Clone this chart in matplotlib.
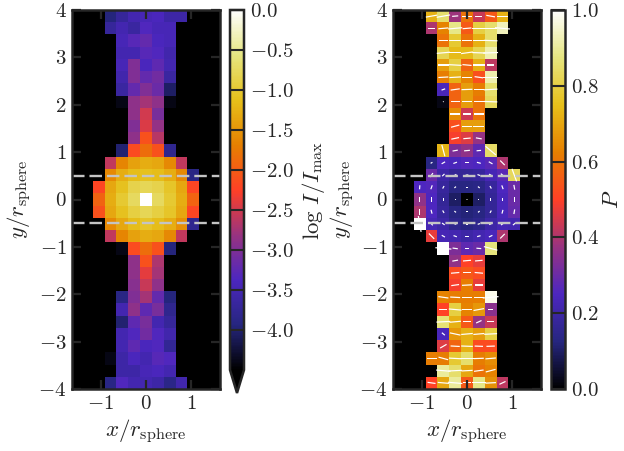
import numpy as np
import matplotlib
matplotlib.use('Agg')
import matplotlib.pyplot as plt

plt.rcParams['font.family'] = ['cmr10', 'DejaVu Serif']
plt.rcParams['mathtext.fontset'] = 'cm'
plt.rcParams['axes.formatter.use_mathtext'] = True
plt.rcParams['font.size'] = 15

N = np.nan
W, H = 624, 451
DARK = '#262626'

# columns -4..4 around the centre, rows from y=+4 down to y=-4
log_i = [
    [N, -3.95, -3.7, -3.5, -3.45, -3.4, -3.6, -3.6, N],
    [N, -3.7, -3.5, -3.65, -3.35, -3.45, -3.45, N, N],
    [N, N, -3.45, -3.3, -3.2, -3.4, -3.45, N, N],
    [N, N, -3.5, -3.5, -3.3, -3.35, -3.55, N, N],
    [N, N, -3.45, -3.0, -3.4, -3.25, -3.5, N, N],
    [N, N, -3.55, -3.0, -3.2, -3.1, -3.65, N, N],
    [N, N, -3.65, -3.2, -3.0, -3.15, -4.05, N, N],
    [N, N, -4.4, -2.9, -2.75, -2.9, -4.4, N, N],
    [N, N, N, -2.9, -2.5, -3.05, N, N, N],
    [N, N, N, -3.0, -2.45, -2.85, N, N, N],
    [N, N, N, -2.9, -2.1, -2.65, N, N, N],
    [N, N, -4.0, -2.15, -1.85, -2.1, -3.8, N, N],
    [N, -2.6, -1.65, -1.4, -1.3, -1.35, -1.6, -2.6, N],
    [N, -1.6, -1.3, -1.15, -1.1, -1.15, -1.3, -1.6, -3.9],
    [-2.2, -1.35, -1.1, -0.85, -0.8, -0.85, -1.05, -1.35, -2.2],
    [-1.95, -1.3, -1.0, -0.75, 0.0, -0.75, -1.0, -1.3, -1.95],
    [-2.1, -1.35, -1.1, -0.9, -0.8, -0.9, -1.05, -1.35, -2.2],
    [N, -1.6, -1.35, -1.15, -1.05, -1.15, -1.3, -1.55, -3.8],
    [N, -2.6, -1.65, -1.4, -1.3, -1.35, -1.6, -2.6, N],
    [N, N, -4.4, -2.15, -1.85, -2.1, -3.95, N, N],
    [N, N, N, -2.9, -2.1, -2.7, N, N, N],
    [N, N, N, -2.9, -2.4, -2.75, N, N, N],
    [N, N, N, -2.95, -2.55, -2.9, N, N, N],
    [N, N, -3.9, -3.0, -2.75, -3.2, -3.95, N, N],
    [N, N, -3.5, -2.9, -3.25, -3.05, -3.8, N, N],
    [N, N, -4.0, -3.25, -3.05, -3.5, -3.7, N, N],
    [N, N, -3.5, -3.35, -3.1, -3.35, -3.55, N, N],
    [N, N, -3.5, -3.25, -3.4, -3.35, -3.75, N, N],
    [N, -4.4, -3.6, -3.4, -3.5, -3.3, -3.35, N, N],
    [N, N, -3.6, -3.6, -3.45, -3.4, -3.5, N, N],
    [N, -3.9, -3.35, -3.5, -3.5, -3.6, -3.85, -3.55, N],
]

pol = [
    [N, .72, .85, .38, .6, .43, .55, .72, N],
    [N, .4, .63, .88, .55, .8, .85, .93, N],
    [N, N, .6, .78, .6, .72, .85, N, N],
    [N, N, .82, .74, .74, .82, .92, N, N],
    [N, N, .68, .8, .57, .72, .42, N, N],
    [N, N, .62, .72, .63, .53, .92, N, N],
    [N, N, .24, .57, .68, .62, .85, N, N],
    [N, N, .02, .57, .68, .6, .83, N, N],
    [N, N, N, .65, .44, .6, N, N, N],
    [N, N, N, .53, .68, .68, N, N, N],
    [N, N, N, .49, .46, .37, N, N, N],
    [N, N, .73, .33, .36, .28, .84, N, N],
    [N, .13, .25, .24, .26, .25, .27, .4, N],
    [N, .3, .2, .17, .17, .18, .23, .27, .83],
    [.25, .26, .18, .13, .13, .14, .18, .25, .3],
    [.36, .25, .17, .1, 0.0, .1, .17, .24, .3],
    [.4, .25, .18, .13, .12, .13, .17, .24, .29],
    [1.0, .23, .2, .15, .13, .15, .2, .23, .22],
    [N, .47, .23, .22, .2, .22, .24, .4, N],
    [N, N, 1.0, .33, .28, .3, .87, N, N],
    [N, N, N, .36, .5, .47, N, N, N],
    [N, N, N, .52, .55, .52, N, N, N],
    [N, N, N, .49, .62, .47, N, N, N],
    [N, N, .63, .62, .62, .62, .98, N, N],
    [N, N, .5, .8, .63, .67, .35, N, N],
    [N, N, .86, .72, .55, .37, .43, N, N],
    [N, N, .24, .67, .72, .68, .8, N, N],
    [N, N, .46, .57, .72, .52, .52, N, N],
    [N, .62, .62, .78, .85, .62, .65, N, N],
    [N, N, .9, .85, .7, .6, .63, N, N],
    [N, .5, .7, .9, .55, .88, .66, .42, N],
]

# polarisation angle in degrees
angle = [
    [N, 10, 10, 5, 0, 0, -10, 0, N],
    [N, 0, 5, 5, 5, 0, 0, -5, N],
    [N, N, 0, 0, 0, 0, -2, N, N],
    [N, N, 5, 0, 8, -2, 2, N, N],
    [N, N, 0, -3, -5, 0, 0, N, N],
    [N, N, 3, 3, 0, -8, 0, N, N],
    [N, N, 20, 8, 2, 0, 3, N, N],
    [N, N, 0, 0, 0, 0, -2, N, N],
    [N, N, N, 0, 0, 0, N, N, N],
    [N, N, N, 15, 0, 0, N, N, N],
    [N, N, N, 12, 5, -10, N, N, N],
    [N, N, -75, 10, 5, 5, -40, N, N],
    [N, 30, 30, 20, 0, -15, -30, -45, N],
    [N, 55, 45, 30, 5, -20, -30, -40, -70],
    [85, 70, 60, 40, 0, -40, -60, -70, -80],
    [90, 90, 90, 90, 0, 90, 90, 90, 90],
    [90, -75, -60, -40, 0, 40, 60, 75, 80],
    [-80, -50, -35, -20, 0, 20, 25, 35, 40],
    [N, -45, -30, -20, 0, 15, 25, 45, N],
    [N, N, -5, -8, 0, -5, -15, N, N],
    [N, N, N, 10, 5, 5, N, N, N],
    [N, N, N, 5, 0, -5, N, N, N],
    [N, N, N, 8, 3, 0, N, N, N],
    [N, N, -8, -3, 0, 0, 5, N, N],
    [N, N, 0, -5, 0, 10, 0, N, N],
    [N, N, 3, 5, 0, 25, 0, N, N],
    [N, N, -40, -12, 5, 5, 3, N, N],
    [N, N, 30, -3, -2, -2, 2, N, N],
    [N, 0, -15, -3, 0, 2, 5, N, N],
    [N, N, -5, 3, 3, 8, 15, N, N],
    [N, -8, -5, -5, 0, 0, 3, 25, N],
]

x_ticks = [-1, 0, 1]
y_ticks = [-4, -3, -2, -1, 0, 1, 2, 3, 4]
i_ticks = [0.0, -0.5, -1.0, -1.5, -2.0, -2.5, -3.0, -3.5, -4.0]
p_ticks = [0.0, 0.2, 0.4, 0.6, 0.8, 1.0]

xc = np.arange(-4, 5) * 0.262
yc = np.arange(15, -16, -1) * 8 / 31


def box(x0, y0, x1, y1):
    return [x0 / W, 1 - y1 / H, (x1 - x0) / W, (y1 - y0) / H]


def setup(ax, ypad):
    ax.set_facecolor('black')
    ax.set_xlim(-1.64, 1.64)
    ax.set_ylim(-4, 4)
    ax.set_xticks(x_ticks)
    ax.set_xticklabels(['$%d$' % t for t in x_ticks])
    ax.set_yticks(y_ticks)
    ax.set_yticklabels(['$%d$' % t for t in y_ticks])
    ax.tick_params(direction='in', top=True, right=True, length=6.5, width=1.6,
                   color=DARK, labelcolor=DARK, pad=4)
    for s in ax.spines.values():
        s.set_linewidth(1.8)
        s.set_color(DARK)
    ax.set_xlabel(r'$x/r_{\rm sphere}$', color=DARK, fontsize=16.5, labelpad=4)
    ax.set_ylabel(r'$y/r_{\rm sphere}$', color=DARK, fontsize=16.5, labelpad=ypad)
    for y in (0.5, -0.5):
        ax.axhline(y, color='#c4c4c4', lw=1.7, linestyle=(0, (5.3, 2.1)))


def bar(fig, mesh, cax, ticks, label, pad, **kw):
    cb = fig.colorbar(mesh, cax=cax, ticks=ticks, **kw)
    cb.ax.set_yticklabels(['$%.1f$' % t for t in ticks])
    cb.ax.tick_params(direction='in', length=10, width=1.5, color=DARK,
                      labelcolor=DARK, pad=4)
    cb.outline.set_linewidth(1.8)
    cb.outline.set_edgecolor(DARK)
    cb.set_label(label, color=DARK, fontsize=16.5, labelpad=pad)
    return cb


fig = plt.figure(figsize=(W / 100, H / 100), dpi=100)

# left panel, intensity
ax1 = fig.add_axes(box(72, 10, 220, 389))
im1 = ax1.pcolormesh(xc, yc, np.array(log_i), cmap='CMRmap', vmin=-4.5, vmax=0,
                     shading='nearest')
setup(ax1, 3)
cax1 = fig.add_axes(box(230, 10, 244, 393))
bar(fig, im1, cax1, i_ticks, r'$\log\,I/I_{\rm max}$', 5, extend='min', extendfrac=0.064)

# right panel, polarisation
ax2 = fig.add_axes(box(393, 10, 541, 389))
im2 = ax2.pcolormesh(xc, yc, np.array(pol), cmap='CMRmap', vmin=0, vmax=1,
                     shading='nearest')
xx, yy = np.meshgrid(xc, yc)
p = np.array(pol)
th = np.radians(np.array(angle, dtype=float))
ax2.quiver(xx, yy, p * np.cos(th), p * np.sin(th), pivot='mid', color='white',
           headwidth=1, headlength=0, headaxislength=0, angles='uv',
           scale_units='x', scale=2.8, units='dots', width=1.2)
setup(ax2, 2)
cax2 = fig.add_axes(box(551, 10, 565, 389))
bar(fig, im2, cax2, p_ticks, r'$P$', 3)

fig.savefig('out.png', dpi=100)
